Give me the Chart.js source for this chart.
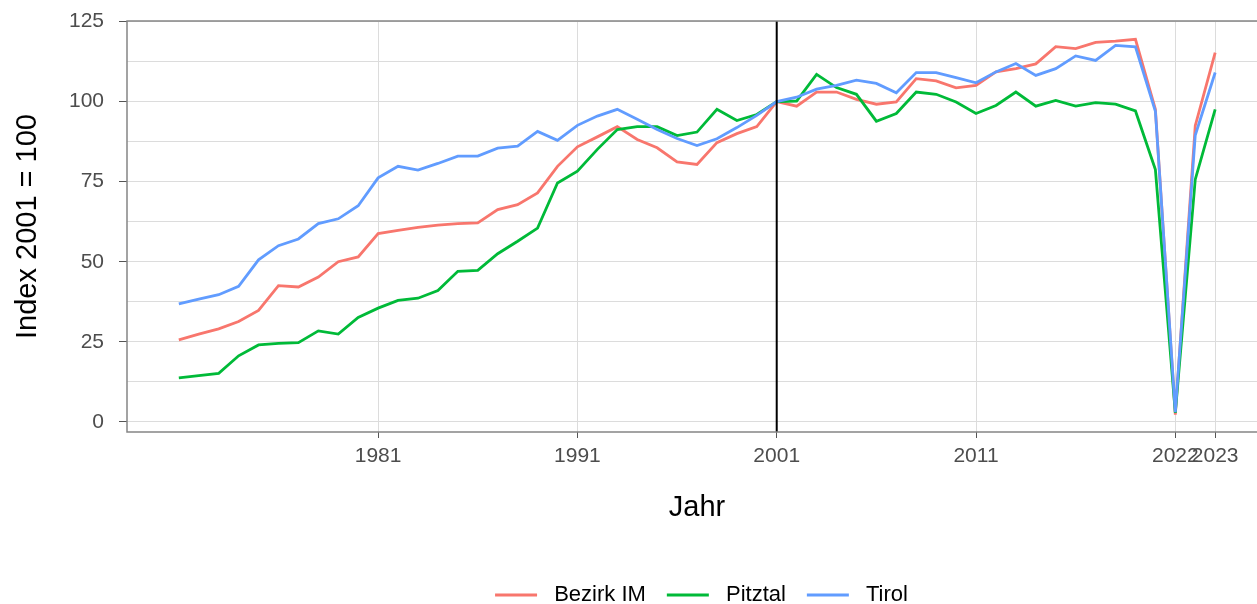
<!DOCTYPE html>
<html>
<head>
<meta charset="utf-8">
<script src="https://cdn.jsdelivr.net/npm/chart.js@4.4.1/dist/chart.umd.min.js"></script>
<style>
  html, body { margin: 0; padding: 0; background: #fff; overflow: hidden; }
  #wrap { width: 1267px; height: 604px; }
</style>
</head>
<body>
<div id="wrap"><canvas id="indexChart"></canvas></div>
<script>
// years 1971 - 2023, index 2001 = 100
const years = [1971, 1972, 1973, 1974, 1975, 1976, 1977, 1978, 1979, 1980,
  1981, 1982, 1983, 1984, 1985, 1986, 1987, 1988, 1989, 1990,
  1991, 1992, 1993, 1994, 1995, 1996, 1997, 1998, 1999, 2000,
  2001, 2002, 2003, 2004, 2005, 2006, 2007, 2008, 2009, 2010,
  2011, 2012, 2013, 2014, 2015, 2016, 2017, 2018, 2019, 2020,
  2021, 2022, 2023];

const bezirkIM = [25.6, 27.4, 29.0, 31.3, 34.8, 42.5, 42.1, 45.2, 50.0, 51.5,
  58.8, 59.8, 60.7, 61.4, 61.9, 62.1, 66.3, 67.8, 71.5, 79.8,
  85.9, 89.0, 92.2, 88.2, 85.6, 81.2, 80.4, 87.2, 90.0, 92.2,
  100, 98.6, 103.0, 103.0, 100.7, 99.2, 99.9, 107.2, 106.5, 104.3,
  105.1, 109.3, 110.3, 111.8, 117.2, 116.6, 118.5, 118.9, 119.5, 97.6,
  2.2, 92.5, 115.3];

const pitztal = [13.7, 14.4, 15.1, 20.6, 24.0, 24.5, 24.7, 28.4, 27.4, 32.6,
  35.5, 37.9, 38.6, 41.0, 47.0, 47.3, 52.5, 56.4, 60.5, 74.6,
  78.3, 85.1, 91.3, 92.2, 92.2, 89.4, 90.5, 97.6, 94.1, 96.0,
  100, 100.2, 108.5, 104.4, 102.3, 93.9, 96.3, 103.0, 102.3, 99.9,
  96.3, 98.8, 103.0, 98.6, 100.4, 98.6, 99.7, 99.2, 97.1, 78.8,
  2.8, 75.7, 97.6];

const tirol = [36.8, 38.3, 39.7, 42.3, 50.6, 55.0, 57.1, 61.9, 63.4, 67.5,
  76.2, 79.8, 78.6, 80.7, 83.0, 83.0, 85.5, 86.1, 90.7, 87.9,
  92.6, 95.5, 97.6, 94.5, 91.3, 88.5, 86.3, 88.4, 91.9, 95.7,
  100, 101.4, 103.9, 105.1, 106.7, 105.7, 102.8, 109.1, 109.1, 107.5,
  105.9, 109.3, 111.9, 108.2, 110.3, 114.3, 112.9, 117.6, 117.1, 97.0,
  3.0, 89.5, 109.1];

// x breaks and the labels printed under them
const xBreaks = [1981, 1991, 2001, 2011, 2021, 2023];
const xLabels = ['1981', '1991', '2001', '2011', '2022', '2023'];
const yBreaks = [0, 12.5, 25, 37.5, 50, 62.5, 75, 87.5, 100, 112.5, 125];
const yLabels = ['0', '', '25', '', '50', '', '75', '', '100', '', '125'];
const refYear = 2001;

const FONT = 'Arial, "Liberation Sans", sans-serif';

function toPoints(vals) {
  return years.map((yr, i) => ({ x: yr, y: vals[i] }));
}

// black vertical line at the base year
const refLine = {
  id: 'refLine',
  afterDatasetsDraw(chart) {
    const { ctx, chartArea, scales } = chart;
    const x = scales.x.getPixelForValue(refYear);
    ctx.save();
    ctx.strokeStyle = '#000';
    ctx.lineWidth = 2;
    ctx.beginPath();
    ctx.moveTo(x, chartArea.top);
    ctx.lineTo(x, chartArea.bottom);
    ctx.stroke();
    ctx.restore();
  }
};

// grey panel border
const panelFrame = {
  id: 'panelFrame',
  afterDraw(chart) {
    const { ctx, chartArea: a } = chart;
    ctx.save();
    ctx.strokeStyle = '#858585';
    ctx.lineWidth = 1.5;
    ctx.strokeRect(a.left, a.top, a.right - a.left, a.bottom - a.top);
    ctx.restore();
  }
};

// legend sits centred under the panel, not the canvas
const legendShift = {
  id: 'legendShift',
  afterLayout(chart) {
    const lg = chart.legend;
    if (lg) { lg.left += 68; lg.right += 68; }
  }
};

const series = [
  { label: 'Bezirk IM', data: bezirkIM, color: '#F8766D', order: 3 },
  { label: 'Pitztal', data: pitztal, color: '#00BA38', order: 2 },
  { label: 'Tirol', data: tirol, color: '#619CFF', order: 1 }
];

new Chart(document.getElementById('indexChart'), {
  type: 'line',
  data: {
    datasets: series.map(s => ({
      label: s.label,
      data: toPoints(s.data),
      borderColor: s.color,
      backgroundColor: s.color,
      borderWidth: 2.8,
      pointRadius: 0,
      pointStyle: 'line',
      tension: 0,
      fill: false,
      order: s.order
    }))
  },
  options: {
    responsive: true,
    maintainAspectRatio: false,
    animation: false,
    layout: { padding: { top: 21, right: 0, left: 0, bottom: -12 } },
    scales: {
      x: {
        type: 'linear',
        min: 1968.4,
        max: 2025.6,
        afterBuildTicks: s => { s.ticks = xBreaks.map(v => ({ value: v })); },
        afterFit: s => { s.height = 131; },
        ticks: {
          callback: (v, i) => xLabels[i],
          autoSkip: false,
          maxRotation: 0,
          color: '#4d4d4d',
          font: { family: FONT, size: 21 },
          padding: 6
        },
        grid: { color: '#dcdcdc', lineWidth: 1, tickLength: 6, tickColor: '#555' },
        border: { display: false },
        title: {
          display: true,
          text: 'Jahr',
          color: '#000',
          font: { family: FONT, size: 29 },
          padding: { top: 0, bottom: 38 }
        }
      },
      y: {
        min: -3.2,
        max: 125.2,
        afterBuildTicks: s => { s.ticks = yBreaks.map(v => ({ value: v })); },
        afterFit: s => { s.width = 127; s.paddingTop = 0; s.paddingBottom = 0; },
        ticks: {
          callback: (v, i) => yLabels[i],
          color: '#4d4d4d',
          font: { family: FONT, size: 21 },
          padding: 15
        },
        grid: {
          color: '#dcdcdc',
          lineWidth: 1,
          tickLength: 8,
          tickColor: c => (c.tick && c.tick.value % 25 === 0) ? '#555' : 'rgba(0,0,0,0)'
        },
        border: { display: false },
        title: {
          display: true,
          text: 'Index 2001 = 100',
          color: '#000',
          font: { family: FONT, size: 29 },
          padding: { top: 11, bottom: 0 }
        }
      }
    },
    plugins: {
      legend: {
        position: 'bottom',
        labels: {
          usePointStyle: true,
          pointStyleWidth: 42,
          padding: 21,
          color: '#000',
          font: { family: FONT, size: 22 },
          sort: (a, b) => a.datasetIndex - b.datasetIndex,
          generateLabels: chart => Chart.defaults.plugins.legend.labels.generateLabels(chart)
            .map(l => Object.assign(l, { text: ' ' + l.text }))
        }
      },
      tooltip: { enabled: false }
    }
  },
  plugins: [refLine, panelFrame, legendShift]
});
</script>
</body>
</html>
